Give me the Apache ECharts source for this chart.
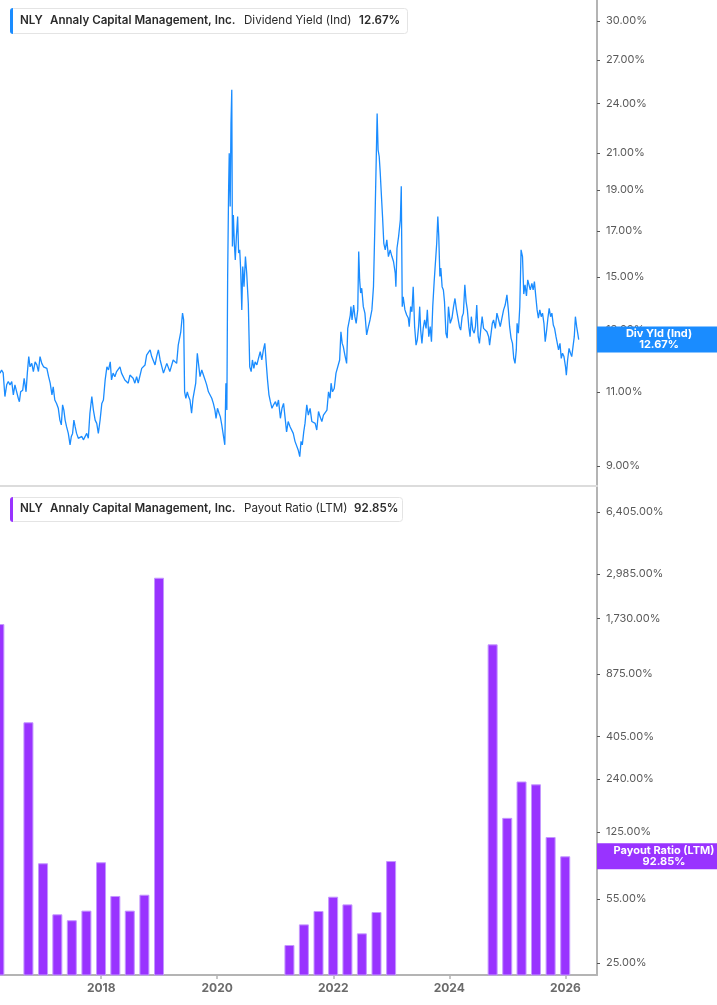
<!DOCTYPE html>
<html><head><meta charset="utf-8">
<script src="https://cdn.jsdelivr.net/npm/echarts@6/dist/echarts.min.js"></script>
<style>html,body{margin:0;padding:0;background:#fff}#c{width:717px;height:1005px}</style>
</head><body><div id="c"></div>
<script>
// ---- Dividend Yield (Ind), % ----
const yieldDates = [
'2016-04-04','2016-04-14','2016-04-24','2016-05-05','2016-05-16','2016-05-26','2016-06-06','2016-06-17','2016-06-27','2016-07-07',
'2016-07-18','2016-07-28','2016-08-04','2016-08-12','2016-08-25','2016-09-03','2016-09-15','2016-09-23','2016-10-02','2016-10-10',
'2016-10-21','2016-10-31','2016-11-11','2016-11-22','2016-12-02','2016-12-12','2016-12-23','2017-01-03','2017-01-13','2017-01-24',
'2017-02-04','2017-02-14','2017-02-25','2017-03-05','2017-03-15','2017-03-26','2017-04-06','2017-04-16','2017-04-25','2017-05-03',
'2017-05-11','2017-05-19','2017-05-28','2017-06-08','2017-06-19','2017-06-27','2017-07-05','2017-07-13','2017-07-21','2017-07-30',
'2017-08-10','2017-08-20','2017-09-01','2017-09-11','2017-09-21','2017-10-02','2017-10-12','2017-10-22','2017-11-03','2017-11-13',
'2017-11-24','2017-12-04','2017-12-14','2017-12-25','2018-01-05','2018-01-15','2018-01-26','2018-02-06','2018-02-16','2018-02-27',
'2018-03-07','2018-03-17','2018-03-28','2018-04-08','2018-04-18','2018-04-29','2018-05-09','2018-05-19','2018-05-30','2018-06-10',
'2018-06-20','2018-07-01','2018-07-11','2018-07-21','2018-08-01','2018-08-12','2018-08-22','2018-09-03','2018-09-13','2018-09-23',
'2018-10-04','2018-10-14','2018-10-24','2018-11-05','2018-11-15','2018-11-25','2018-12-06','2018-12-16','2018-12-27','2019-01-07',
'2019-01-18','2019-01-28','2019-02-08','2019-02-18','2019-02-28','2019-03-09','2019-03-20','2019-03-30','2019-04-10','2019-04-21',
'2019-05-01','2019-05-11','2019-05-17','2019-05-28','2019-06-04','2019-06-10','2019-06-18','2019-06-27','2019-07-05','2019-07-14',
'2019-07-24','2019-08-02','2019-08-10','2019-08-19','2019-08-29','2019-09-05','2019-09-15','2019-09-26','2019-10-06','2019-10-17',
'2019-10-27','2019-11-07','2019-11-17','2019-11-28','2019-12-08','2019-12-18','2019-12-25','2020-01-03','2020-01-13','2020-01-21',
'2020-01-30','2020-02-10','2020-02-18','2020-02-25','2020-03-02','2020-03-07','2020-03-13','2020-03-17','2020-03-23','2020-03-28',
'2020-04-02','2020-04-06','2020-04-12','2020-04-18','2020-04-24','2020-05-01','2020-05-09','2020-05-15','2020-05-22','2020-05-28',
'2020-06-04','2020-06-10','2020-06-18','2020-06-27','2020-07-05','2020-07-15','2020-07-24','2020-08-02','2020-08-10','2020-08-19',
'2020-08-27','2020-09-07','2020-09-17','2020-09-28','2020-10-08','2020-10-18','2020-10-27','2020-11-05','2020-11-13','2020-11-22',
'2020-12-01','2020-12-11','2020-12-21','2021-01-02','2021-01-11','2021-01-21','2021-02-02','2021-02-12','2021-02-22','2021-03-03',
'2021-03-13','2021-03-23','2021-04-04','2021-04-14','2021-04-24','2021-05-05','2021-05-15','2021-05-25','2021-06-04','2021-06-12',
'2021-06-20','2021-06-29','2021-07-07','2021-07-18','2021-07-28','2021-08-08','2021-08-19','2021-08-29','2021-09-09','2021-09-19',
'2021-09-30','2021-10-10','2021-10-21','2021-10-31','2021-11-11','2021-11-22','2021-12-02','2021-12-12','2021-12-18','2021-12-27',
'2022-01-07','2022-01-18','2022-01-30','2022-02-10','2022-02-18','2022-02-26','2022-03-05','2022-03-15','2022-03-26','2022-04-02',
'2022-04-10','2022-04-18','2022-04-22','2022-04-29','2022-05-09','2022-05-17','2022-05-25','2022-06-04','2022-06-10','2022-06-16',
'2022-06-22','2022-06-29','2022-07-09','2022-07-19','2022-07-30','2022-08-10','2022-08-20','2022-09-01','2022-09-11','2022-09-21',
'2022-09-28','2022-10-04','2022-10-10','2022-10-17','2022-10-23','2022-10-29','2022-11-07','2022-11-15','2022-11-24','2022-12-04',
'2022-12-14','2022-12-25','2023-01-05','2023-01-15','2023-01-26','2023-01-30','2023-02-06','2023-02-16','2023-02-27','2023-03-05',
'2023-03-11','2023-03-17','2023-03-28','2023-04-08','2023-04-18','2023-04-24','2023-05-03','2023-05-11','2023-05-19','2023-05-28',
'2023-06-06','2023-06-14','2023-06-22','2023-06-29','2023-07-05','2023-07-13','2023-07-21','2023-07-30','2023-08-08','2023-08-16',
'2023-08-25','2023-09-03','2023-09-11','2023-09-19','2023-09-28','2023-10-06','2023-10-14','2023-10-21','2023-10-27','2023-11-03',
'2023-11-09','2023-11-17','2023-11-25','2023-12-02','2023-12-11','2023-12-19','2023-12-27','2024-01-07','2024-01-18','2024-01-28',
'2024-02-06','2024-02-14','2024-02-25','2024-03-05','2024-03-13','2024-03-22','2024-03-30','2024-04-08','2024-04-16','2024-04-24',
'2024-05-03','2024-05-11','2024-05-19','2024-05-28','2024-06-06','2024-06-14','2024-06-22','2024-07-01','2024-07-09','2024-07-18',
'2024-07-26','2024-08-04','2024-08-14','2024-08-25','2024-09-05','2024-09-11','2024-09-19','2024-09-28','2024-10-06','2024-10-17',
'2024-10-27','2024-11-07','2024-11-17','2024-11-28','2024-12-08','2024-12-18','2024-12-29','2025-01-07','2025-01-15','2025-01-24',
'2025-02-02','2025-02-10','2025-02-18','2025-02-26','2025-03-03','2025-03-11','2025-03-20','2025-03-28','2025-04-06','2025-04-14',
'2025-04-22','2025-05-01','2025-05-09','2025-05-17','2025-05-25','2025-06-04','2025-06-12','2025-06-20','2025-06-29','2025-07-07',
'2025-07-15','2025-07-24','2025-08-02','2025-08-10','2025-08-19','2025-08-27','2025-09-05','2025-09-13','2025-09-21','2025-09-30',
'2025-10-08','2025-10-17','2025-10-25','2025-11-03','2025-11-11','2025-11-19','2025-11-28','2025-12-06','2025-12-14','2025-12-23',
'2026-01-02','2026-01-07','2026-01-15','2026-01-24','2026-02-02','2026-02-10','2026-02-18','2026-02-26','2026-03-05','2026-03-13',
'2026-03-20','2026-03-26'
];
const yieldValues = [
11.57,11.67,11.58,10.86,11.21,11.31,11.21,11.31,10.91,11.21,
11.00,10.81,10.71,11.00,11.05,11.41,11.00,11.57,12.10,11.77,
11.88,11.62,11.93,11.83,11.62,12.10,11.88,11.77,11.83,11.72,
11.46,11.26,10.91,11.15,10.76,10.66,10.52,10.19,10.06,10.62,
10.47,10.19,10.01,9.83,9.53,9.75,9.83,10.19,10.01,9.83,
9.70,9.66,9.75,9.66,9.62,9.83,9.70,10.38,10.86,10.47,
10.19,10.10,9.83,10.19,10.66,10.76,11.36,11.77,11.67,11.93,
11.36,11.57,11.46,11.62,11.67,11.77,11.57,11.57,11.36,11.41,
11.26,11.51,11.46,11.41,11.26,11.46,11.26,11.31,11.72,11.77,
11.83,12.15,12.10,12.32,12.10,12.04,11.83,12.10,12.32,11.99,
11.77,11.57,11.51,11.88,11.88,11.62,11.67,11.99,11.93,11.88,
12.48,12.54,12.94,13.61,13.36,11.00,10.81,11.00,10.86,10.76,
10.38,10.81,10.86,11.26,12.21,12.15,11.46,11.67,11.62,11.36,
11.21,11.00,10.95,10.81,10.66,10.47,10.24,10.52,10.38,10.28,
10.06,10.01,9.53,11.26,10.47,15.03,19.00,20.98,18.16,22.75,
24.90,16.30,17.75,16.44,15.72,16.74,17.67,16.01,16.15,15.30,
13.73,15.44,14.62,15.86,15.16,13.98,11.77,11.62,11.99,11.72,
11.93,11.83,12.04,12.26,11.99,12.32,12.54,11.88,11.36,10.91,
10.71,10.52,10.62,10.71,10.57,10.76,10.24,10.52,10.66,10.28,
9.87,10.15,10.01,10.06,9.83,9.62,9.57,9.40,9.23,9.62,
9.53,9.87,10.10,10.62,10.33,10.52,10.15,10.19,10.10,9.92,
10.43,10.28,10.15,10.33,10.38,10.47,11.00,10.81,11.26,11.00,
11.10,11.57,11.62,11.99,12.94,12.54,12.43,12.15,11.88,13.06,
13.12,13.54,13.85,13.36,13.91,13.48,13.24,13.73,16.08,14.89,
14.37,14.56,13.85,13.61,12.83,13.12,13.36,13.73,14.62,17.67,
20.50,23.36,21.17,20.79,19.97,19.00,17.67,16.44,16.15,16.59,
15.86,16.15,15.86,15.65,15.16,14.62,16.22,16.74,17.51,19.18,
13.85,14.22,13.73,13.54,13.43,13.12,13.85,13.66,14.62,13.12,
12.48,12.66,13.12,13.85,13.00,12.54,13.06,13.36,13.06,13.73,
12.77,13.12,12.60,13.85,14.82,14.75,16.44,17.67,16.74,15.03,
15.37,14.62,14.49,14.04,12.89,12.72,13.85,13.24,13.43,13.85,
14.16,13.79,13.73,13.12,13.00,13.48,13.61,14.69,14.04,13.73,
13.12,12.77,13.48,13.00,12.89,13.12,13.91,12.77,12.54,13.06,
13.48,13.06,13.12,12.94,12.77,12.48,12.83,13.24,13.36,13.06,
13.61,13.36,13.12,13.12,13.73,13.91,14.30,13.73,13.12,12.72,
12.54,12.04,11.88,12.32,13.24,12.89,13.85,16.15,15.86,14.33,
14.69,14.26,14.89,14.96,14.49,14.75,14.49,14.82,14.22,13.73,
13.43,13.73,13.48,13.61,13.24,12.60,13.00,13.43,13.79,13.48,
13.61,13.18,13.06,12.77,12.83,12.32,12.54,12.04,12.21,12.10,
11.77,11.51,11.99,12.37,12.21,12.10,12.43,12.77,13.48,13.12,
13.06,12.67
];

// ---- Payout Ratio (LTM), % (quarterly; quarters with negative ratios are not plotted on the log scale) ----
const payoutDates = ['2016-03-31','2016-09-30','2016-12-31','2017-03-31','2017-06-30','2017-09-30','2017-12-31',
  '2018-03-31','2018-06-30','2018-09-30','2018-12-31','2021-03-31','2021-06-30','2021-09-30','2021-12-31',
  '2022-03-31','2022-06-30','2022-09-30','2022-12-31','2024-09-30','2024-12-31','2025-03-31','2025-06-30',
  '2025-09-30','2025-12-31'];
const payoutValues = [1615, 482.5, 85.2, 45.5, 42.3, 47.6, 86.3, 57.0, 47.6, 57.9, 2855,
  31.2, 40.2, 47.4, 56.5, 51.4, 36.0, 46.8, 87.6, 1258, 149, 233, 225, 117.7, 92.85];

// ---- Axis ticks ----
const yieldTicks = [9, 11, 13, 15, 17, 19, 21, 24, 27, 30];
const payoutTicks = [25, 55, 125, 240, 405, 875, 1730, 2985, 6405];
const yearTicks = ['2018-01-01', '2020-01-01', '2022-01-01', '2024-01-01', '2026-01-01'];

const X_MIN = '2016-04-04', X_MAX = '2026-07-19';
const BLUE = '#1a8cff', PURPLE = '#9933ff';
const FONT = 'Inter, "Noto Sans", sans-serif';

// local-midnight timestamp of a 'YYYY-MM-DD' date (same convention as ECharts' time parsing)
const ts = s => new Date(s + 'T00:00:00').getTime();
const pct = v => Number(v).toLocaleString('en-US', {minimumFractionDigits: 2, maximumFractionDigits: 2}) + '%';

const chart = echarts.init(document.getElementById('c'), null, {renderer: 'canvas'});

function legendBox(y, h, w, color, metric, val, valX) {
  const cy = y + h / 2;
  const t = (x, text, weight) => ({type: 'text', x: x, y: cy, z: 101,
    style: {text: text, fill: '#2b2b2b', font: weight + ' 11.6px ' + FONT, verticalAlign: 'middle'}});
  return [
    {type: 'rect', z: 100, shape: {x: 10.5, y: y + 0.5, width: w, height: h, r: 3},
     style: {fill: '#fff', stroke: '#e4e4e4', lineWidth: 1}},
    {type: 'rect', z: 101, shape: {x: 10, y: y, width: 3, height: h + 1, r: [3, 0, 0, 3]}, style: {fill: color}},
    t(20, 'NLY', 600), t(50, 'Annaly Capital Management, Inc.', 600), t(244, metric, 400), t(valX, val, 600)
  ];
}

const option = {
  animation: false,
  backgroundColor: '#fff',
  textStyle: {fontFamily: FONT},
  grid: [
    {left: 0, right: 120, top: 0, height: 486},
    {left: 0, right: 120, top: 487, bottom: 30}
  ],
  xAxis: [
    {type: 'time', gridIndex: 0, min: ts(X_MIN), max: ts(X_MAX),
     axisLine: {show: true, lineStyle: {color: '#dcdcdc', width: 2}},
     axisTick: {show: false}, axisLabel: {show: false}, splitLine: {show: false}},
    {type: 'value', gridIndex: 1, min: ts(X_MIN), max: ts(X_MAX), scale: true,
     axisLine: {show: true, onZero: false, lineStyle: {color: '#b4b4b4', width: 2}},
     axisTick: {show: true, customValues: yearTicks.map(ts), length: 4, lineStyle: {color: '#b4b4b4', width: 1.5}},
     axisLabel: {customValues: yearTicks.map(ts), formatter: v => String(new Date(v).getFullYear()),
       color: '#6b6b6b', fontWeight: 'bold', fontSize: 12, margin: 7, fontFamily: FONT},
     splitLine: {show: false}}
  ],
  yAxis: [
    {type: 'log', gridIndex: 0, position: 'right', min: 8.526, max: 31.75, logBase: 10,
     axisLine: {show: true, lineStyle: {color: '#b4b4b4', width: 2}},
     axisTick: {show: true, customValues: yieldTicks, length: 3, lineStyle: {color: '#555', width: 1}},
     axisLabel: {customValues: yieldTicks, formatter: pct, color: '#5a5a5a', fontSize: 11, margin: 9, fontFamily: FONT},
     splitLine: {show: false}},
    {type: 'log', gridIndex: 1, position: 'right', min: 21.57, max: 8713, logBase: 10,
     axisLine: {show: true, lineStyle: {color: '#b4b4b4', width: 2}},
     axisTick: {show: true, customValues: payoutTicks, length: 3, lineStyle: {color: '#555', width: 1}},
     axisLabel: {customValues: payoutTicks, formatter: pct, color: '#5a5a5a', fontSize: 11, margin: 9, fontFamily: FONT},
     splitLine: {show: false}}
  ],
  series: [
    {type: 'line', name: 'Dividend Yield (Ind)', xAxisIndex: 0, yAxisIndex: 0,
     data: yieldDates.map((d, i) => [ts(d), yieldValues[i]]),
     showSymbol: false, symbol: 'none', lineStyle: {color: BLUE, width: 1.3}, itemStyle: {color: BLUE},
     z: 3,
     markPoint: {symbol: 'rect', symbolSize: [124, 26], symbolOffset: [62, 0], silent: true,
       itemStyle: {color: BLUE},
       label: {show: true, position: 'inside', color: '#fff', fontWeight: 'bold', fontSize: 11, lineHeight: 11,
         fontFamily: FONT, formatter: 'Div Yld (Ind)\n' + pct(yieldValues[yieldValues.length - 1])},
       data: [{coord: [ts(X_MAX), yieldValues[yieldValues.length - 1]]}]}
    },
    {type: 'bar', name: 'Payout Ratio (LTM)', xAxisIndex: 1, yAxisIndex: 1,
     data: payoutDates.map((d, i) => [ts(d), payoutValues[i]]),
     barWidth: 10, itemStyle: {color: PURPLE, borderColor: '#c497ff', borderWidth: 1},
     z: 3,
     markPoint: {symbol: 'rect', symbolSize: [134, 26], symbolOffset: [67, 0], silent: true,
       itemStyle: {color: PURPLE},
       label: {show: true, position: 'inside', color: '#fff', fontWeight: 'bold', fontSize: 11, lineHeight: 11,
         fontFamily: FONT, formatter: 'Payout Ratio (LTM)\n' + pct(payoutValues[payoutValues.length - 1])},
       data: [{coord: [ts(X_MAX), payoutValues[payoutValues.length - 1]]}]}
    }
  ],
  graphic: [].concat(
    legendBox(8, 25, 397, BLUE, 'Dividend Yield (Ind)', pct(yieldValues[yieldValues.length - 1]), 359),
    legendBox(497, 24, 392, PURPLE, 'Payout Ratio (LTM)', pct(payoutValues[payoutValues.length - 1]), 354)
  )
};
chart.setOption(option);
</script>
</body></html>
